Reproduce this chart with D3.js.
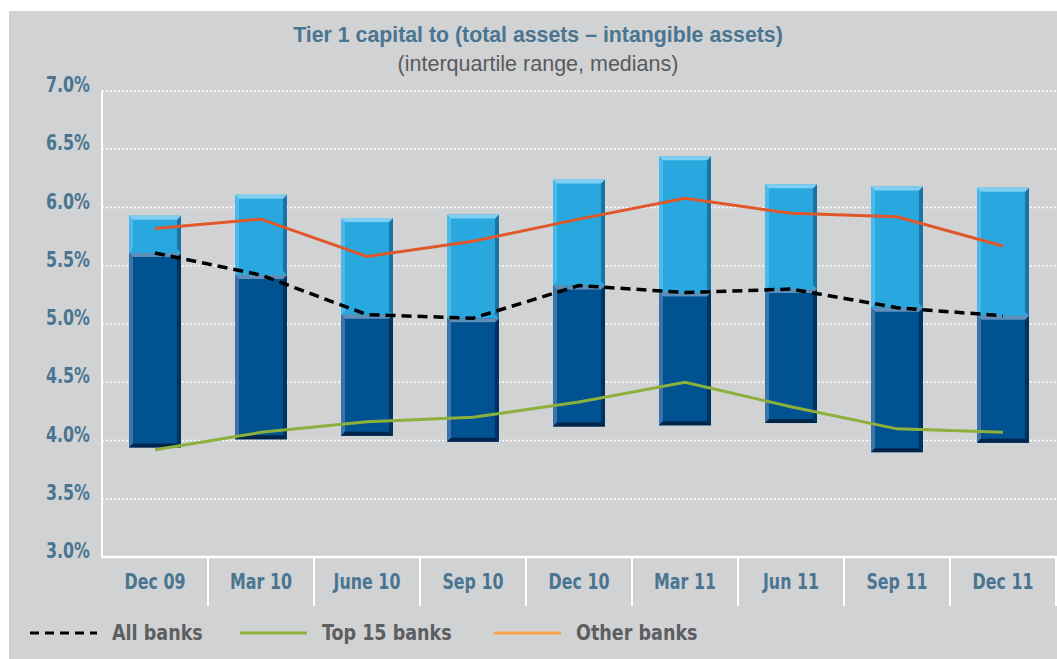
<!DOCTYPE html>
<html>
<head>
<meta charset="utf-8">
<script src="https://cdn.jsdelivr.net/npm/d3@7"></script>
<style>
  body { margin: 0; background: #fff; }
  svg { display: block; }
  .cond { font-family: "Liberation Sans Narrow", "DejaVu Sans Condensed", sans-serif; font-weight: bold; }
  .tick-y, .tick-x { fill: #4a7591; font-size: 21px; }
  .legend text { fill: #5d5e60; font-size: 21px; }
</style>
</head>
<body>
<div id="chart"></div>
<script>
// quarters on the x axis
var categories = ['Dec 09', 'Mar 10', 'June 10', 'Sep 10', 'Dec 10', 'Mar 11', 'Jun 11', 'Sep 11', 'Dec 11'];
// interquartile range (all banks), per cent
var lowerQuartile = [3.94, 4.01, 4.04, 3.99, 4.12, 4.13, 4.15, 3.90, 3.98];
var upperQuartile = [5.93, 6.11, 5.91, 5.94, 6.24, 6.44, 6.20, 6.18, 6.17];
// medians
var allBanks   = [5.61, 5.42, 5.08, 5.05, 5.33, 5.27, 5.30, 5.14, 5.07];
var top15Banks = [3.92, 4.07, 4.16, 4.20, 4.33, 4.50, 4.29, 4.10, 4.07];
var otherBanks = [5.82, 5.90, 5.58, 5.71, 5.90, 6.08, 5.95, 5.92, 5.67];
var yTicks = [3.0, 3.5, 4.0, 4.5, 5.0, 5.5, 6.0, 6.5, 7.0];

var W = 1057, H = 659;
var svg = d3.select('#chart').append('svg').attr('width', W).attr('height', H);

svg.append('rect').attr('x', 9).attr('y', 11).attr('width', W - 9).attr('height', H - 11).attr('fill', '#d1d2d4');

var x = d3.scaleBand().domain(categories).range([102, 1056]);
var y = d3.scaleLinear().domain([3, 7]).range([557, 91]);
var cx = function(c){ return x(c) + x.bandwidth() / 2; };

// narrow text: the original uses a condensed face, squeeze horizontally
function squeeze(sel, px, py, k) {
  sel.attr('x', 0).attr('y', 0)
    .attr('transform', function(d, i){ return 'translate(' + px(d, i) + ',' + py(d, i) + ') scale(' + k + ',1)'; });
}

// title
svg.append('text').attr('x', 538).attr('y', 42).attr('text-anchor', 'middle')
  .style('font-family', '"Liberation Sans", Arial, sans-serif').style('font-weight', 'bold')
  .style('font-size', '21.3px').attr('fill', '#4a7591')
  .text('Tier 1 capital to (total assets \u2013 intangible assets)');
svg.append('text').attr('x', 538).attr('y', 71).attr('text-anchor', 'middle')
  .style('font-family', '"Liberation Sans", Arial, sans-serif')
  .style('font-size', '21.5px').attr('fill', '#5b5b5b')
  .text('(interquartile range, medians)');

// gridlines
svg.append('g').selectAll('line').data(yTicks.filter(function(d){ return d > 3; })).enter()
  .append('line')
  .attr('x1', 102).attr('x2', 1056)
  .attr('y1', function(d){ return y(d); }).attr('y2', function(d){ return y(d); })
  .attr('stroke', '#fff').attr('stroke-width', 1.6).attr('stroke-dasharray', '2,2');

// y labels
svg.append('g').selectAll('text').data(yTicks).enter()
  .append('text').attr('class', 'cond tick-y')
  .attr('text-anchor', 'end')
  .text(function(d){ return d.toFixed(1) + '%'; })
  .call(squeeze, function(){ return 90; }, function(d){ return y(d) + 1; }, 0.84);

// axes lines
svg.append('line').attr('x1', 102).attr('x2', 102).attr('y1', y(7)).attr('y2', y(3))
  .attr('stroke', '#fff').attr('stroke-width', 2);
svg.append('line').attr('x1', 101).attr('x2', 1057).attr('y1', y(3)).attr('y2', y(3))
  .attr('stroke', '#fff').attr('stroke-width', 2.5);

// x category separators and labels
var seps = categories.map(function(c){ return x(c) + x.bandwidth(); });
svg.append('g').selectAll('line').data(seps).enter()
  .append('line')
  .attr('x1', function(d){ return d; }).attr('x2', function(d){ return d; })
  .attr('y1', y(3)).attr('y2', 606)
  .attr('stroke', '#fff').attr('stroke-width', 2);
svg.append('g').selectAll('text').data(categories).enter()
  .append('text').attr('class', 'cond tick-x')
  .attr('text-anchor', 'middle')
  .text(function(d){ return d; })
  .call(squeeze, cx, function(){ return 589; }, 0.84);

// bevelled bar segment
var bw = x.bandwidth() * 0.49, bev = 4;
function segment(g, x0, x1, top, bot, col) {
  g.append('rect').attr('x', x0).attr('y', top).attr('width', x1 - x0).attr('height', bot - top).attr('fill', col.main);
  var pts = function(a){ return a.map(function(p){ return p.join(','); }).join(' '); };
  g.append('polygon').attr('fill', col.left)
    .attr('points', pts([[x0, top], [x0 + bev, top + bev], [x0 + bev, bot - bev], [x0, bot]]));
  g.append('polygon').attr('fill', col.right)
    .attr('points', pts([[x1, top], [x1 - bev, top + bev], [x1 - bev, bot - bev], [x1, bot]]));
  g.append('polygon').attr('fill', col.top)
    .attr('points', pts([[x0, top], [x1, top], [x1 - bev, top + bev], [x0 + bev, top + bev]]));
  if (col.bottom) {
    g.append('polygon').attr('fill', col.bottom)
      .attr('points', pts([[x0, bot], [x1, bot], [x1 - bev, bot - bev], [x0 + bev, bot - bev]]));
  }
}
var lightCol = { main: '#29a8e0', left: '#4bb9ea', right: '#1b73a3', top: '#80cff2' };
var darkCol  = { main: '#005291', left: '#3a74a8', right: '#00335e', top: '#5d8fba', bottom: '#00254a' };

var bars = svg.append('g');
categories.forEach(function(c, i){
  var x0 = cx(c) - bw / 2, x1 = cx(c) + bw / 2;
  segment(bars, x0, x1, y(upperQuartile[i]), y(allBanks[i]), lightCol);
  segment(bars, x0, x1, y(allBanks[i]), y(lowerQuartile[i]), darkCol);
});

// median lines
function series(vals) { return categories.map(function(c, i){ return [cx(c), y(vals[i])]; }); }
var line = d3.line();
svg.append('path').attr('d', line(series(otherBanks))).attr('fill', 'none')
  .attr('stroke', '#e0582a').attr('stroke-width', 3);
svg.append('path').attr('d', line(series(top15Banks))).attr('fill', 'none')
  .attr('stroke', '#8db03c').attr('stroke-width', 3);
svg.append('path').attr('d', line(series(allBanks))).attr('fill', 'none')
  .attr('stroke', '#000').attr('stroke-width', 3.5).attr('stroke-dasharray', '10,6');

// legend
var legendItems = [
  { name: 'All banks', color: '#000', dash: '9,6', x: 30 },
  { name: 'Top 15 banks', color: '#8db03c', dash: null, x: 240 },
  { name: 'Other banks', color: '#f7a24b', dash: null, x: 494 }
];
var lg = svg.append('g').attr('class', 'legend');
legendItems.forEach(function(d){
  lg.append('line').attr('x1', d.x).attr('x2', d.x + 67).attr('y1', 633).attr('y2', 633)
    .attr('stroke', d.color).attr('stroke-width', 3).attr('stroke-dasharray', d.dash);
  lg.append('text').datum(d).attr('class', 'cond').text(d.name)
    .call(squeeze, function(){ return d.x + 82; }, function(){ return 640; }, 0.93);
});
</script>
</body>
</html>
